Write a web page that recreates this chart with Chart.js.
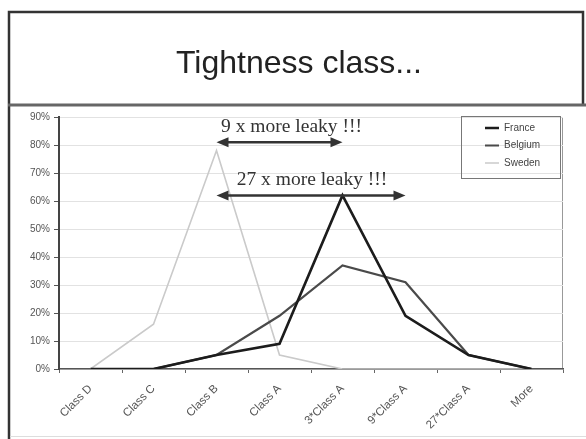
<!DOCTYPE html>
<html>
<head>
<meta charset="utf-8">
<script src="https://cdn.jsdelivr.net/npm/chart.js@4.4.1/dist/chart.umd.min.js"></script>
<style>
  html, body { margin: 0; padding: 0; background: #ffffff; }
  #wrap { width: 586px; height: 439px; position: relative; }
</style>
</head>
<body>
<div id="wrap"><canvas id="c" width="586" height="439"></canvas></div>
<script>
// Share of buildings per tightness class (%)
const categories = ['Class D', 'Class C', 'Class B', 'Class A', '3*Class A', '9*Class A', '27*Class A', 'More'];
const france  = [0, 0, 5, 9, 62, 19, 5, 0];
const belgium = [0, 0, 5, 19, 37, 31, 5, 0];
const sweden  = [0, 16, 78, 5, 0, 0, 0, 0];
const yTicks  = [0, 10, 20, 30, 40, 50, 60, 70, 80, 90];

// Comparison arrows: from / to category index, level in %
const arrowFrom   = [2, 2];
const arrowTo     = [4, 5];
const arrowLevel  = [81, 62];
const arrowLabels = ['9 x more leaky !!!', '27 x more leaky !!!'];

const SANS = '"Liberation Sans", Arial, sans-serif';
const SERIF = '"Liberation Serif", "Times New Roman", serif';

const slideFrame = {
  id: 'slideFrame',
  afterLayout(chart) {
    // title centred on the slide frame rather than the plot
    const tb = chart.titleBlock;
    if (tb) { tb.left = 12; tb.right = 586; }
    // legend inside the plot, upper right
    const lg = chart.legend;
    if (lg) {
      const w = lg.width, h = lg.height;
      lg.left = 477.5; lg.top = 115.5;
      lg.right = lg.left + w; lg.bottom = lg.top + h;
    }
  },
  beforeDraw(chart) {
    const ctx = chart.ctx, a = chart.chartArea;
    ctx.save();
    ctx.fillStyle = '#ffffff';
    ctx.fillRect(0, 0, chart.width, chart.height);
    // slide frame
    ctx.strokeStyle = '#333';
    ctx.lineWidth = 2.5;
    ctx.beginPath();
    ctx.moveTo(9, 439); ctx.lineTo(9, 12); ctx.lineTo(583, 12); ctx.lineTo(583, 105);
    ctx.stroke();
    // title separator
    ctx.strokeStyle = '#666';
    ctx.lineWidth = 3;
    ctx.beginPath(); ctx.moveTo(8, 105); ctx.lineTo(586, 105); ctx.stroke();
    // bottom edge
    ctx.strokeStyle = '#ddd';
    ctx.lineWidth = 1;
    ctx.beginPath(); ctx.moveTo(10, 436.5); ctx.lineTo(586, 436.5); ctx.stroke();
    // plot area frame (top / right)
    ctx.strokeStyle = '#999';
    ctx.lineWidth = 1;
    ctx.beginPath();
    ctx.moveTo(a.left, a.top + 0.5); ctx.lineTo(a.right - 0.5, a.top + 0.5); ctx.lineTo(a.right - 0.5, a.bottom);
    ctx.stroke();
    ctx.restore();
  },
  afterDatasetsDraw(chart) {
    const ctx = chart.ctx, xs = chart.scales.x, ys = chart.scales.y;
    const labelDx = [12, 1];
    ctx.save();
    ctx.strokeStyle = '#333';
    ctx.fillStyle = '#333';
    ctx.lineWidth = 2.5;
    for (let i = 0; i < arrowFrom.length; i++) {
      const x1 = xs.getPixelForValue(arrowFrom[i]);
      const x2 = xs.getPixelForValue(arrowTo[i]);
      const y = ys.getPixelForValue(arrowLevel[i]);
      const head = 12, hw = 5;
      ctx.beginPath(); ctx.moveTo(x1 + head - 1, y); ctx.lineTo(x2 - head + 1, y); ctx.stroke();
      ctx.beginPath(); ctx.moveTo(x1, y); ctx.lineTo(x1 + head, y - hw); ctx.lineTo(x1 + head, y + hw); ctx.closePath(); ctx.fill();
      ctx.beginPath(); ctx.moveTo(x2, y); ctx.lineTo(x2 - head, y - hw); ctx.lineTo(x2 - head, y + hw); ctx.closePath(); ctx.fill();
      ctx.font = '19.5px ' + SERIF;
      ctx.textAlign = 'center';
      ctx.textBaseline = 'alphabetic';
      ctx.fillText(arrowLabels[i], (x1 + x2) / 2 + labelDx[i], y - 10);
    }
    ctx.restore();
  },
  afterDraw(chart) {
    const ctx = chart.ctx;
    ctx.save();
    ctx.strokeStyle = '#777';
    ctx.lineWidth = 1;
    ctx.strokeRect(461.5, 116.5, 99, 62);
    ctx.restore();
  }
};

new Chart(document.getElementById('c'), {
  type: 'line',
  data: {
    labels: categories,
    datasets: [
      { label: 'France',  data: france,  borderColor: '#1c1c1c', borderWidth: 2.6 },
      { label: 'Belgium', data: belgium, borderColor: '#4a4a4a', borderWidth: 2.2 },
      { label: 'Sweden',  data: sweden,  borderColor: '#cacaca', borderWidth: 1.6 }
    ]
  },
  options: {
    responsive: false,
    animation: false,
    devicePixelRatio: 1,
    elements: { point: { radius: 0 }, line: { tension: 0 } },
    layout: { padding: { left: 12, right: 23, top: 0, bottom: 0 } },
    plugins: {
      title: {
        display: true,
        text: 'Tightness class...',
        color: '#222',
        font: { family: SANS, size: 32, weight: 'normal' },
        padding: { top: 45, bottom: 117 - 45 - 32 * 1.2 }
      },
      legend: {
        position: 'chartArea',
        align: 'start',
        labels: {
          usePointStyle: true,
          pointStyle: 'line',
          pointStyleWidth: 14,
          padding: 7.5,
          color: '#444',
          font: { family: SANS, size: 10 }
        }
      },
      tooltip: { enabled: false }
    },
    scales: {
      x: {
        offset: true,
        grid: { drawOnChartArea: false, drawTicks: true, tickLength: 4, color: '#666', offset: true },
        border: { color: '#555', width: 1.5 },
        ticks: {
          minRotation: 45, maxRotation: 45, padding: 9,
          color: '#555', font: { family: SANS, size: 11.5 }
        },
        afterFit(s) { s.height = 70; }
      },
      y: {
        min: 0, max: 90,
        afterBuildTicks(s) { s.ticks = yTicks.map(v => ({ value: v })); },
        grid: { color: '#e2e2e2', lineWidth: 1, tickLength: 5, tickColor: '#555' },
        border: { color: '#444', width: 2 },
        ticks: {
          padding: 4, color: '#555', font: { family: SANS, size: 10 },
          callback: v => v + '%'
        },
        afterFit(s) { s.width = 47; }
      }
    }
  },
  plugins: [slideFrame]
});
</script>
</body>
</html>
